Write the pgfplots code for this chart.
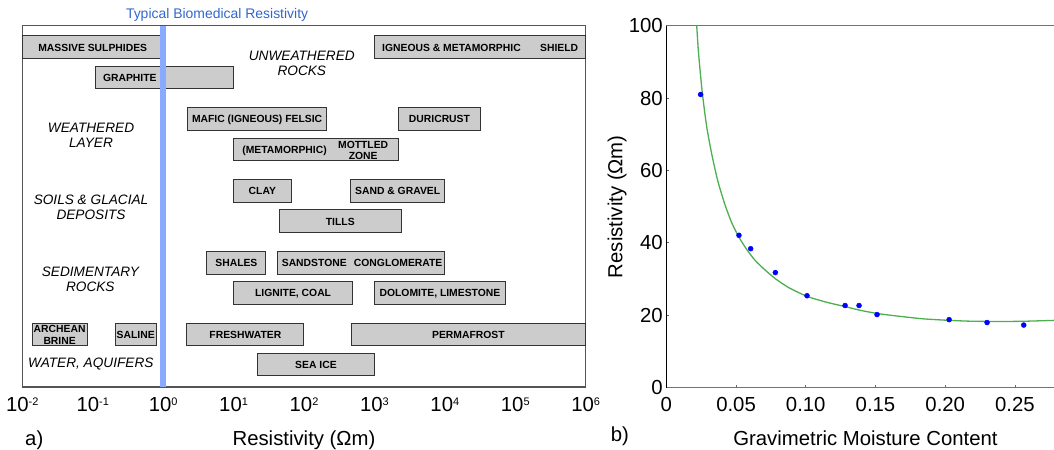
\documentclass[border=0pt]{standalone}
\usepackage{pgfplots}
\pgfplotsset{compat=1.18}
\usepackage{fontspec}
\setmainfont{Liberation Sans}
\definecolor{barfill}{HTML}{CCCCCC}
\definecolor{bardraw}{HTML}{333333}
\definecolor{band}{HTML}{88AAFF}
\definecolor{bandtext}{HTML}{3366CC}
\definecolor{fitgreen}{HTML}{4CAF50}
\newcommand\sups[1]{\raisebox{6.5bp}{\fontsize{11}{11}\selectfont #1}}
\newcommand\blabfont{\fontsize{10.4}{12}\selectfont\bfseries}
\newcommand\glabfont{\fontsize{13.7}{15}\selectfont\itshape}
\newcommand\bigfont{\fontsize{20.4}{24}\selectfont}
\newcommand\rbar[4]{\addplot[draw=bardraw, fill=barfill, line width=1bp, mark=none] coordinates {(#1,#3) (#2,#3) (#2,#4) (#1,#4)} -- cycle;}
\newcommand\blab[3]{\node[font=\blabfont, text height=7.4bp, text depth=0pt, inner sep=0pt, anchor=center] at (axis cs:#1,#2) {#3};}
\newcommand\glab[3]{\node[font=\glabfont, text height=9.8bp, text depth=0pt, inner sep=0pt, anchor=center] at (axis cs:#1,#2) {#3};}
\begin{document}
\begin{tikzpicture}
\useasboundingbox (0,0) rectangle (1054bp,450bp);
% ---------------- left panel ----------------
\begin{axis}[
  at={(22.3bp,63bp)}, anchor=south west, scale only axis,
  width=563.4bp, height=361.3bp,
  xmin=-2, xmax=6, ymin=63, ymax=424.3,
  xtick={-2,-1,0,1,2,3,4,5,6},
  xticklabels={{10\sups{-2}},{10\sups{-1}},{10\sups{0}},{10\sups{1}},{10\sups{2}},{10\sups{3}},{10\sups{4}},{10\sups{5}},{10\sups{6}}},
  ytick=\empty, major tick length=0pt,
  axis line style={draw=black!67, line width=1.2bp},
  tick label style={font=\bigfont},
  xticklabel style={anchor=base, yshift=-24.5bp},
  xlabel={Resistivity (Ωm)},
  x label style={at={(axis description cs:0.5,0)}, anchor=base, yshift=-58bp, font=\bigfont},
  clip=false,
]
% bars: x in log10(ohm m), y rows
\rbar{-2}{0.0}{391.3}{414}
\rbar{3.0}{6.0}{391.3}{414}
\rbar{-0.963}{1.0}{361}{383.7}
\rbar{0.344}{2.324}{319.7}{342.3}
\rbar{3.347}{4.5}{319.7}{342.3}
\rbar{1.0}{3.347}{289.3}{311.7}
\rbar{1.0}{1.817}{247.7}{270.3}
\rbar{2.66}{4.0}{247.7}{270.3}
\rbar{1.65}{3.38}{217.3}{240}
\rbar{0.62}{1.46}{175.7}{198.3}
\rbar{1.63}{4.0}{175.7}{198.3}
\rbar{1.0}{2.69}{145.7}{168.3}
\rbar{3.0}{4.86}{145.7}{168.3}
\rbar{-1.86}{-1.08}{104}{126.7}
\rbar{-0.68}{-0.10}{104}{126.7}
\rbar{0.335}{2.0}{104}{126.7}
\rbar{2.67}{6.0}{104}{126.7}
\rbar{1.34}{3.0}{74}{96.7}
% biomedical band
\addplot[draw=none, fill=band, mark=none] coordinates {(-0.045,63) (0.045,63) (0.045,424.3) (-0.045,424.3)} -- cycle;
\node[font=\fontsize{14}{16}\selectfont, text=bandtext, anchor=base] at (axis cs:0.766,431.7) {Typical Biomedical Resistivity};
% bar labels
\blab{-1.0}{402.65}{MASSIVE SULPHIDES}
\blab{4.094}{402.65}{IGNEOUS \& METAMORPHIC}
\blab{5.624}{402.65}{SHIELD}
\blab{-0.474}{372.35}{GRAPHITE}
\blab{1.334}{331}{MAFIC (IGNEOUS) FELSIC}
\blab{3.9235}{331}{DURICRUST}
\blab{1.724}{300.5}{(METAMORPHIC)}
\blab{2.84}{305.5}{MOTTLED}
\blab{2.84}{294.2}{ZONE}
\blab{1.4085}{259}{CLAY}
\blab{3.33}{259}{SAND \& GRAVEL}
\blab{2.515}{228.65}{TILLS}
\blab{1.04}{187}{SHALES}
\blab{2.146}{187}{SANDSTONE}
\blab{3.337}{187}{CONGLOMERATE}
\blab{1.845}{157}{LIGNITE, COAL}
\blab{3.93}{157}{DOLOMITE, LIMESTONE}
\blab{-1.47}{120.9}{ARCHEAN}
\blab{-1.47}{109.3}{BRINE}
\blab{-0.39}{115.35}{SALINE}
\blab{1.1675}{115.35}{FRESHWATER}
\blab{4.335}{115.35}{PERMAFROST}
\blab{2.17}{85.35}{SEA ICE}
% group labels
\glab{1.969}{394.2}{UNWEATHERED}
\glab{1.969}{379.5}{ROCKS}
\glab{-1.024}{322.5}{WEATHERED}
\glab{-1.024}{307.5}{LAYER}
\glab{-1.024}{250.8}{SOILS \& GLACIAL}
\glab{-1.024}{235.8}{DEPOSITS}
\glab{-1.034}{178.3}{SEDIMENTARY}
\glab{-1.034}{163.8}{ROCKS}
\glab{-1.027}{87.5}{WATER, AQUIFERS}
\end{axis}
\node[anchor=base west, font=\bigfont] at (21.7bp,5bp) {a)};
% ---------------- right panel ----------------
\begin{axis}[
  at={(666.3bp,62.3bp)}, anchor=south west, scale only axis,
  width=387.7bp, height=362bp,
  xmin=0, xmax=0.278, ymin=0, ymax=100,
  axis x line*=bottom, axis y line*=left,
  x axis line style={draw=black!55, line width=1.3bp},
  y axis line style={draw=black, line width=0.8bp},
  xtick={0,0.05,0.1,0.15,0.2,0.25},
  xticklabels={0,0.05,0.10,0.15,0.20,0.25},
  ytick={0,20,40,60,80,100},
  yticklabels={0,20,40,60,80,100},
  tick align=inside, major tick length=3bp,
  tick style={black!60, line width=0.8bp},
  tick label style={font=\bigfont},
  xticklabel style={anchor=base, yshift=-24bp},
  xlabel={Gravimetric Moisture Content},
  x label style={at={(axis description cs:0.5138,0)}, anchor=base, yshift=-57.3bp, font=\bigfont},
  ylabel={Resistivity (Ωm)},
  y label style={at={(axis description cs:-0.127,0.5)}, anchor=center, font=\bigfont},
]
\draw[black!55, line width=1.3bp] (rel axis cs:0,1) -- (rel axis cs:1,1);
\addplot[fitgreen, line width=1.3bp, mark=none, smooth, tension=0.4] coordinates {
(0.0218,100) (0.0230,93) (0.0245,86.5) (0.0261,80.5) (0.0290,72) (0.0326,64.5)
(0.0370,57) (0.0421,50.5) (0.0470,45.5) (0.0522,41.5) (0.0580,38) (0.0636,35.2)
(0.0700,32.8) (0.0779,30.2) (0.0880,27.6) (0.1012,25.2) (0.1150,23.6) (0.1282,22.4)
(0.1400,21.3) (0.1530,20.4) (0.1700,19.6) (0.1850,19.0) (0.2028,18.6) (0.2200,18.35)
(0.2400,18.3) (0.2560,18.35) (0.2781,18.6)};
\addplot[only marks, mark=*, mark size=2.5bp, color=blue, mark options={draw=blue, fill=blue}] coordinates {
(0.0246,81.0) (0.0521,42.1) (0.0605,38.4) (0.0782,31.8) (0.1009,25.4) (0.1282,22.7)
(0.1382,22.7) (0.1511,20.2) (0.2028,18.8) (0.2300,18.0) (0.2563,17.3)};
\end{axis}
\node[anchor=base west, font=\bigfont] at (607.3bp,8.3bp) {b)};
\end{tikzpicture}
\end{document}
